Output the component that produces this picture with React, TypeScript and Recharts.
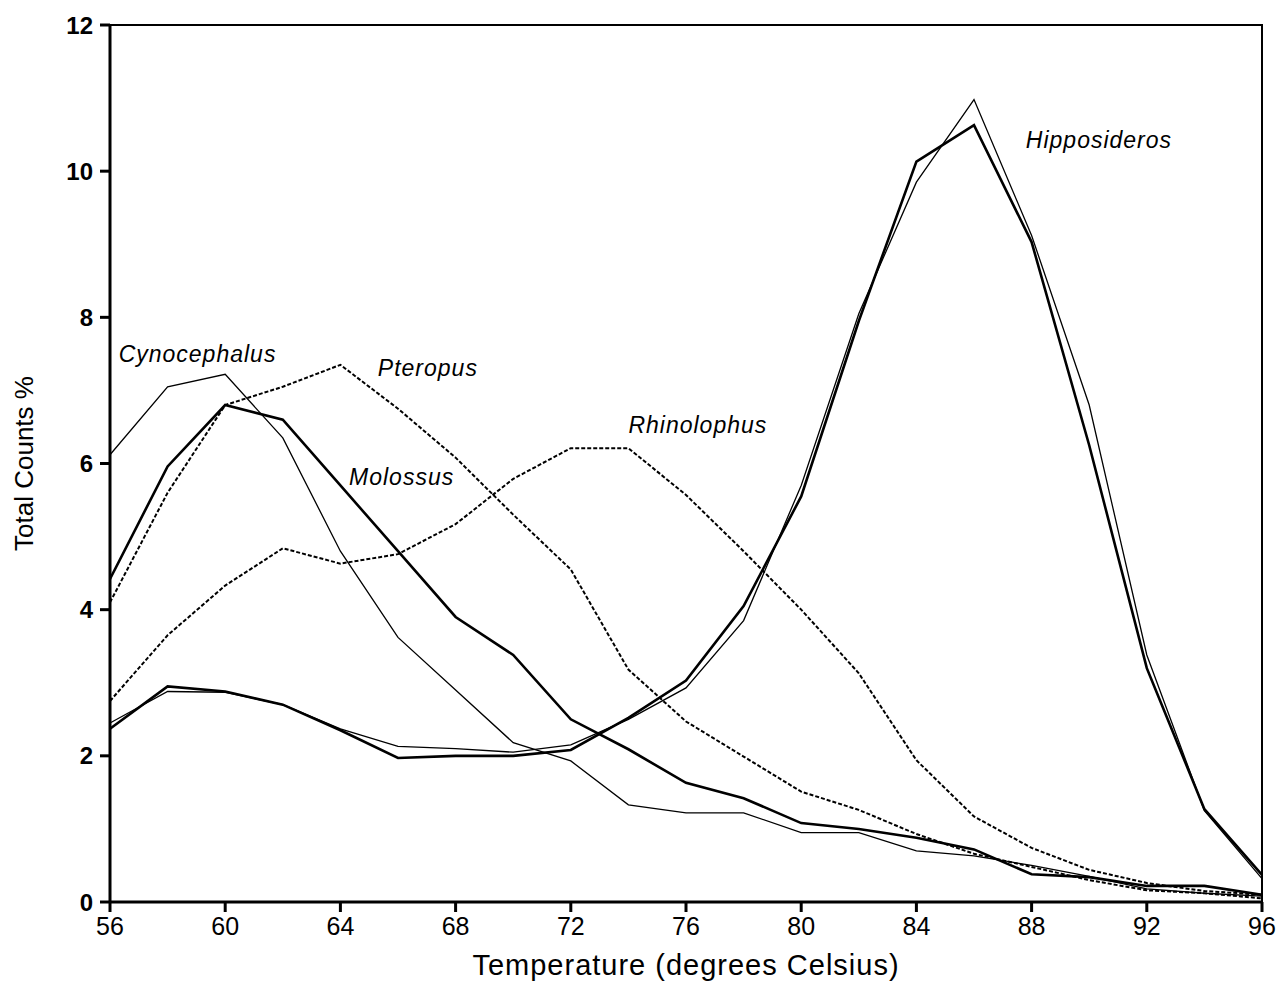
import React from 'react';
import { LineChart, Line, XAxis, YAxis, ReferenceArea, ReferenceDot, Label } from 'recharts';

const temps = [56, 58, 60, 62, 64, 66, 68, 70, 72, 74, 76, 78, 80, 82, 84, 86, 88, 90, 92, 94, 96];
const xTicks = [56, 60, 64, 68, 72, 76, 80, 84, 88, 92, 96];
const yTicks = [0, 2, 4, 6, 8, 10, 12];

const cynocephalus = [6.12, 7.05, 7.22, 6.35, 4.8, 3.62, 2.9, 2.18, 1.93, 1.33, 1.22, 1.22, 0.95, 0.95, 0.7, 0.63, 0.5, 0.35, 0.18, 0.12, 0.08];
const molossus = [4.42, 5.96, 6.8, 6.6, 5.7, 4.8, 3.9, 3.38, 2.5, 2.09, 1.63, 1.42, 1.08, 1.0, 0.88, 0.72, 0.38, 0.34, 0.22, 0.22, 0.1];
const pteropus = [4.1, 5.6, 6.8, 7.05, 7.35, 6.75, 6.08, 5.3, 4.55, 3.18, 2.47, 1.99, 1.51, 1.26, 0.93, 0.66, 0.48, 0.3, 0.16, 0.12, 0.05];
const rhinolophus = [2.75, 3.65, 4.33, 4.84, 4.63, 4.76, 5.17, 5.79, 6.21, 6.21, 5.57, 4.8, 4.0, 3.13, 1.94, 1.17, 0.74, 0.44, 0.26, 0.15, 0.1];
const hippoThick = [2.37, 2.95, 2.88, 2.7, 2.35, 1.97, 2.0, 2.0, 2.08, 2.52, 3.03, 4.05, 5.55, 7.95, 10.13, 10.63, 9.03, 6.25, 3.2, 1.27, 0.37];
const hippoThin = [2.45, 2.88, 2.87, 2.7, 2.37, 2.13, 2.1, 2.05, 2.15, 2.5, 2.93, 3.85, 5.7, 8.05, 9.85, 10.98, 9.12, 6.8, 3.38, 1.25, 0.32];

const speciesLabels = [
  { name: 'Cynocephalus', x: 56.3, y: 7.5 },
  { name: 'Pteropus', x: 65.3, y: 7.3 },
  { name: 'Molossus', x: 64.3, y: 5.81 },
  { name: 'Rhinolophus', x: 74.0, y: 6.52 },
  { name: 'Hipposideros', x: 87.8, y: 10.42 },
];

const data = temps.map((t, i) => ({
  t,
  cynocephalus: cynocephalus[i],
  molossus: molossus[i],
  pteropus: pteropus[i],
  rhinolophus: rhinolophus[i],
  hippoThick: hippoThick[i],
  hippoThin: hippoThin[i],
}));

const font = "'Liberation Sans', Arial, Helvetica, sans-serif";

const SpeciesLabel = ({ viewBox, value }: any) => (
  <text x={viewBox.x} y={viewBox.y} dy={8} fill="#000" fontSize={23} letterSpacing={1} fontStyle="italic" fontFamily={font}>
    {value}
  </text>
);

export default function App() {
  return (
    <div style={{ position: 'absolute', left: 0, top: 0, background: '#fff' }}>
      <LineChart width={1278} height={983} data={data} margin={{ top: 25, right: 16, bottom: 0, left: 0 }}>
        <ReferenceArea x1={56} x2={96} y1={0} y2={12} fill="none" stroke="#000" strokeWidth={2} />
        <XAxis
          dataKey="t"
          type="number"
          domain={[56, 96]}
          ticks={xTicks}
          height={81}
          stroke="#000"
          strokeWidth={3}
          tickSize={10}
          tick={{ fill: '#000', fontSize: 25, fontFamily: font }}
          tickMargin={5}
        >
          <Label value="Temperature (degrees Celsius)" position="insideBottom" offset={8} fill="#000" fontSize={29} letterSpacing={1} fontFamily={font} />
        </XAxis>
        <YAxis
          type="number"
          domain={[0, 12]}
          ticks={yTicks}
          width={110}
          stroke="#000"
          strokeWidth={3}
          tickSize={10}
          tickMargin={7}
          tick={{ fill: '#000', fontSize: 24, fontWeight: 700, fontFamily: font }}
        >
          <Label value="Total Counts %" angle={-90} position="insideLeft" offset={24} fill="#000" fontSize={26} fontFamily={font} style={{ textAnchor: 'middle' }} />
        </YAxis>
        <Line dataKey="cynocephalus" stroke="#000" strokeWidth={1.3} dot={false} isAnimationActive={false} />
        <Line dataKey="molossus" stroke="#000" strokeWidth={2.6} dot={false} isAnimationActive={false} />
        <Line dataKey="pteropus" stroke="#000" strokeWidth={2} strokeDasharray="4 2" dot={false} isAnimationActive={false} />
        <Line dataKey="rhinolophus" stroke="#000" strokeWidth={2} strokeDasharray="4 2" dot={false} isAnimationActive={false} />
        <Line dataKey="hippoThick" stroke="#000" strokeWidth={2.6} dot={false} isAnimationActive={false} />
        <Line dataKey="hippoThin" stroke="#000" strokeWidth={1.3} dot={false} isAnimationActive={false} />
        {speciesLabels.map((l) => (
          <ReferenceDot key={l.name} x={l.x} y={l.y} r={0} fill="none" stroke="none" label={<SpeciesLabel value={l.name} />} />
        ))}
      </LineChart>
    </div>
  );
}
